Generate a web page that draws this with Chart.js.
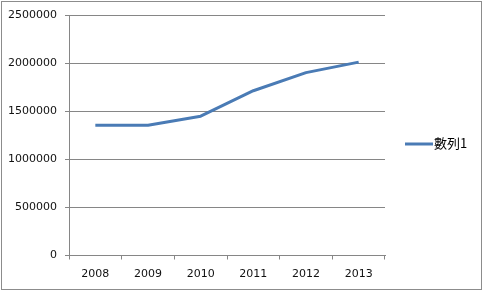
<!DOCTYPE html>
<html>
<head>
<meta charset="utf-8">
<script src="https://cdn.jsdelivr.net/npm/chart.js@4"></script>
<style>
  body { margin: 0; background: #fff; }
  #wrap { position: absolute; left: 0; top: 0; width: 484px; height: 292px; }
</style>
</head>
<body>
<div id="wrap"><canvas id="chart" width="484" height="292"></canvas></div>
<script>
  const years = ['2008', '2009', '2010', '2011', '2012', '2013'];
  const series1 = [1354000, 1355000, 1448000, 1713000, 1901000, 2010000];
  const seriesName = '數列1';
  const yTicks = [0, 500000, 1000000, 1500000, 2000000, 2500000];

  const lineColor = '#4a7bb5';
  const gridColor = '#868686';
  const tickFont = { family: 'DejaVu Sans', size: 11 };

  // outer frame + legend on the right
  const frameAndLegend = {
    id: 'frameAndLegend',
    afterDraw: (chart) => {
      const ctx = chart.ctx;
      ctx.save();
      ctx.strokeStyle = '#8c8c8c';
      ctx.lineWidth = 1;
      ctx.strokeRect(1.5, 1.5, 480, 288);

      const ds = chart.data.datasets[0];
      ctx.strokeStyle = ds.borderColor;
      ctx.lineWidth = 3;
      ctx.beginPath();
      ctx.moveTo(405, 144);
      ctx.lineTo(433, 144);
      ctx.stroke();
      ctx.fillStyle = '#000';
      ctx.font = '13px "Noto Sans CJK TC"';
      ctx.textBaseline = 'middle';
      ctx.fillText(ds.label, 434, 143);
      ctx.restore();
    }
  };

  const config = {
    type: 'line',
    data: {
      labels: years,
      datasets: [
        {
          label: seriesName,
          data: series1,
          borderColor: lineColor,
          borderWidth: 3,
          pointRadius: 0,
          tension: 0,
          borderJoinStyle: 'round'
        }
      ]
    },
    options: {
      responsive: false,
      animation: false,
      layout: {
        padding: { left: 0, right: 99, top: 15, bottom: 0 }
      },
      plugins: {
        legend: { display: false },
        tooltip: { enabled: false }
      },
      scales: {
        x: {
          offset: true,
          grid: {
            offset: true,
            drawOnChartArea: false,
            drawTicks: true,
            tickLength: 4,
            color: gridColor
          },
          border: { display: true, color: gridColor },
          ticks: { color: '#111', font: tickFont, padding: 8, maxRotation: 0 },
          afterFit: (scale) => { scale.height = 36.5; }
        },
        y: {
          min: 0,
          max: 2500000,
          afterBuildTicks: (scale) => {
            scale.ticks = yTicks.map((v) => ({ value: v }));
          },
          grid: {
            color: gridColor,
            tickLength: 4
          },
          border: { display: true, color: gridColor },
          ticks: {
            color: '#111',
            font: tickFont,
            padding: 8,
            callback: (v) => String(v)
          },
          afterFit: (scale) => { scale.width = 69; }
        }
      }
    },
    plugins: [frameAndLegend]
  };

  new Chart(document.getElementById('chart'), config);
</script>
</body>
</html>
